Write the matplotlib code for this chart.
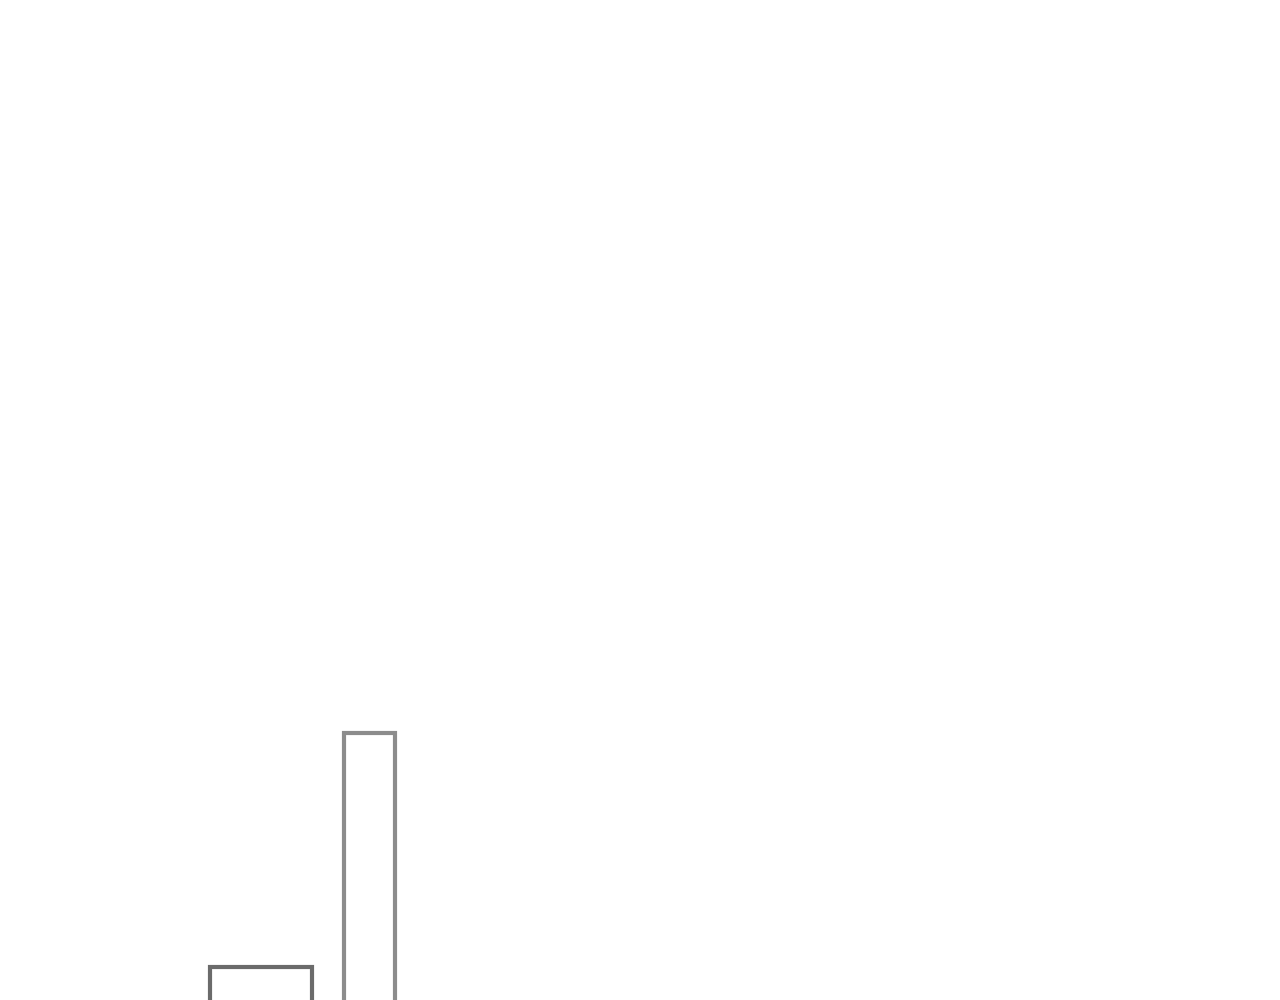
import matplotlib
matplotlib.use("Agg")
import matplotlib.pyplot as plt

categories = [0, 1]
values = [1.33, 3.67]
widths = [0.94, 0.47]
edge_colors = ["#6b6b6b", "#8c8c8c"]

fig = plt.figure(figsize=(12.8, 10), dpi=100)
ax = fig.add_axes([0, 0, 1, 1])
ax.bar(categories, values, width=widths, fill=False,
       edgecolor=edge_colors, linewidth=3)
ax.set_xlim(-2.405, 9.392)
ax.set_ylim(1.0, 11.0)
ax.axis("off")
fig.savefig("out.png", dpi=100, facecolor="white")
